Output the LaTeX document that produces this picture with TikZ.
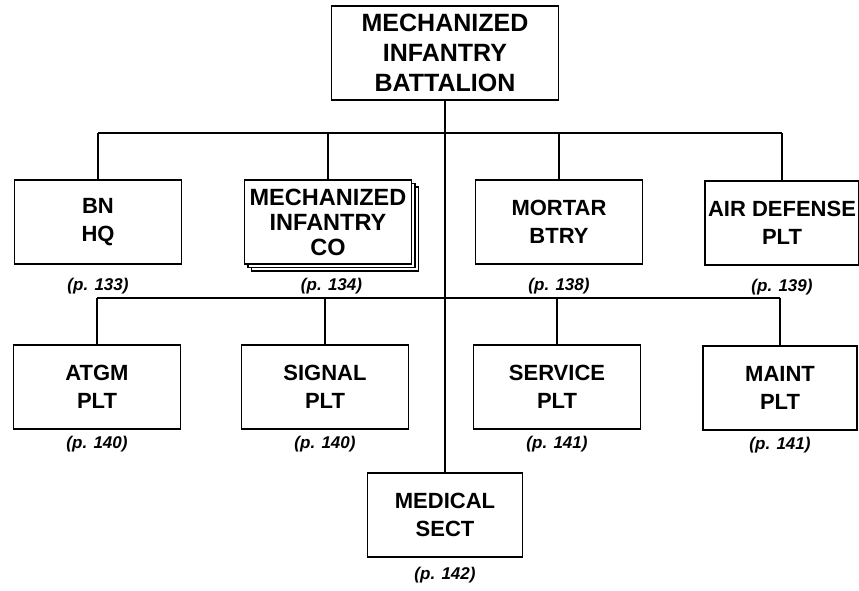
\documentclass[tikz,border=0pt]{standalone}
\usepackage{fontspec}
\setmainfont{Liberation Sans}
\usetikzlibrary{positioning}

\begin{document}
\begin{tikzpicture}[x=1pt, y=1pt,
        node distance=12pt,
        line width=1.6pt,
        unit/.style={draw, fill=white, align=center, font=\fontsize{22}{28}\selectfont\bfseries, minimum width=167pt, minimum height=84pt, inner sep=2pt},
        pg/.style={font=\fontsize{17}{20}\selectfont\bfseries\itshape, inner sep=1pt}]
    \useasboundingbox (0,0) rectangle (859,-590);
    \node[unit, minimum width=227pt, minimum height=94pt, font=\fontsize{25}{30}\selectfont\bfseries] (bn) at (445,-53) {MECHANIZED\\INFANTRY\\BATTALION};
    % first row
    \node[unit] (hq) at (98,-222) {BN\\HQ};
    \node[unit] (co3) at (335,-229) {};
    \node[unit] (co2) at (331.5,-225.5) {};
    \node[unit, font=\fontsize{23.5}{25}\selectfont\bfseries] (co) at (328,-222) {MECHANIZED\\INFANTRY\\CO};
    \node[unit] (mtr) at (559,-222) {MORTAR\\BTRY};
    \node[unit, minimum width=154pt] (ad) at (782,-223) {AIR DEFENSE\\PLT};
    % second row
    \node[unit] (atgm) at (97,-387) {ATGM\\PLT};
    \node[unit] (sig) at (325,-387) {SIGNAL\\PLT};
    \node[unit] (svc) at (557,-387) {SERVICE\\PLT};
    \node[unit, minimum width=154pt] (mnt) at (780,-388) {MAINT\\PLT};
    \node[unit, minimum width=155pt] (med) at (445,-515) {MEDICAL\\SECT};
    % page refs
    \node[pg, below=of hq] (hqpg) {(p. 133)};
    \node[pg, below=5pt of co3.south -| co2] (copg) {(p. 134)};
    \node[pg, below=of mtr] (mtrpg) {(p. 138)};
    \node[pg, below=of ad] (adpg) {(p. 139)};
    \node[pg, below=5pt of atgm] (atgmpg) {(p. 140)};
    \node[pg, below=5pt of sig] (sigpg) {(p. 140)};
    \node[pg, below=5pt of svc] (svcpg) {(p. 141)};
    \node[pg, below=5pt of mnt] (mntpg) {(p. 141)};
    \node[pg, below=8pt of med] (medpg) {(p. 142)};
    % lines
    \coordinate (bus1) at (0,-133);
    \coordinate (bus2) at (0,-298);
    \draw (bn.south) -- (med.north);
    \draw (hq.north |- bus1) -- (ad.north |- bus1);
    \draw (atgm.north |- bus2) -- (mnt.north |- bus2);
    \foreach \n in {hq, co, mtr, ad}
        \draw (\n.north) -- (\n.north |- bus1);
    \foreach \n in {atgm, sig, svc, mnt}
        \draw (\n.north) -- (\n.north |- bus2);
\end{tikzpicture}
\end{document}
